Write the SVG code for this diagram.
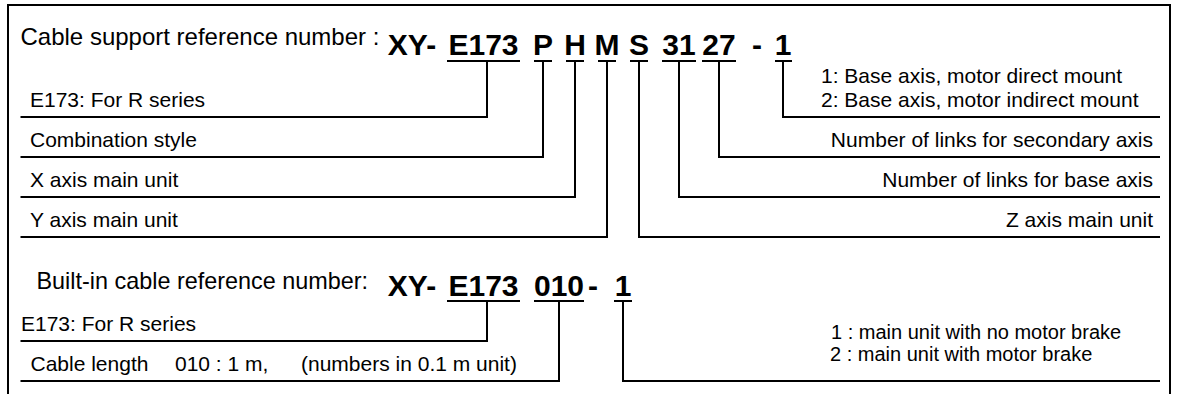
<svg xmlns="http://www.w3.org/2000/svg" width="1178" height="394" viewBox="0 0 1178 394">
<style>
text{font-family:"Liberation Sans",Arial,sans-serif;fill:#000}
.title{font-size:24px}
.code{font-size:30px;font-weight:bold;text-anchor:middle}
.lbl{font-size:21px}
.sm{font-size:20px}
.rt{font-size:21px;text-anchor:end}
.ln{stroke:#000;stroke-width:2;fill:none}
.frame{stroke:#000;stroke-width:2;fill:none}
</style>
<rect width="1178" height="394" fill="#fff"/>
<path class="frame" d="M8,395 V5 H1170 V395"/>

<g id="title1"><text class="title" x="20.5" y="45">Cable support reference number :</text></g>
<g id="code1">
<text class="code" x="412" y="55">XY-</text>
<text class="code" x="483.5" y="55">E173</text>
<text class="code" x="543" y="55">P</text>
<text class="code" x="575" y="55">H</text>
<text class="code" x="607" y="55">M</text>
<text class="code" x="639" y="55">S</text>
<text class="code" x="679" y="55">31</text>
<text class="code" x="719" y="55">27</text>
<text class="code" x="757" y="55">-</text>
<text class="code" x="783" y="55">1</text>
</g>

<g id="lbl-series"><text class="lbl" x="30" y="107">E173: For R series</text></g>
<g id="lbl-comb"><text class="lbl" x="30" y="147">Combination style</text></g>
<g id="lbl-x"><text class="lbl" x="30" y="187">X axis main unit</text></g>
<g id="lbl-y"><text class="lbl" x="30" y="227">Y axis main unit</text></g>
<g id="lbl-mount">
<text class="lbl" x="821" y="83">1: Base axis, motor direct mount</text>
<text class="lbl" x="821" y="107">2: Base axis, motor indirect mount</text>
</g>
<g id="lbl-sec"><text class="rt" x="1153" y="147">Number of links for secondary axis</text></g>
<g id="lbl-base"><text class="rt" x="1153" y="187">Number of links for base axis</text></g>
<g id="lbl-z"><text class="rt" x="1153" y="227">Z axis main unit</text></g>

<g id="title2"><text class="title" x="36.5" y="289" style="font-size:23.4px">Built-in cable reference number:</text></g>
<g id="code2">
<text class="code" x="412" y="296">XY-</text>
<text class="code" x="483.5" y="296">E173</text>
<text class="code" x="559" y="296">010</text>
<text class="code" x="593" y="296">-</text>
<text class="code" x="623" y="296">1</text>
</g>
<g id="lbl2-series"><text class="lbl" x="21" y="331">E173: For R series</text></g>
<g id="lbl2-length"><text class="lbl" y="371"><tspan x="30.5">Cable length</tspan><tspan x="175">010 : 1 m,</tspan><tspan x="301">(numbers in 0.1 m unit)</tspan></text></g>
<g id="lbl2-brake">
<text class="sm" x="831" y="338.5">1 : main unit with no motor brake</text>
<text class="sm" x="830" y="361">2 : main unit with motor brake</text>
</g>

<g id="connectors" class="ln">
<path d="M447,61 H520 M534,61 H552 M566,61 H584 M598,61 H616 M630,61 H648 M662,61 H696 M702,61 H736 M775,61 H792"/>
<path d="M487,61 V117 H20.5"/>
<path d="M543,61 V157 H20.5"/>
<path d="M575,61 V197 H20.5"/>
<path d="M607,61 V237 H20.5"/>
<path d="M639,61 V237 H1160"/>
<path d="M679,61 V197 H1160"/>
<path d="M719,61 V157 H1160"/>
<path d="M783,61 V117 H1160"/>
<path d="M447,301 H520 M534,301 H584 M614,301 H632"/>
<path d="M487,301 V341 H20.5"/>
<path d="M559,301 V381 H20.5"/>
<path d="M623,301 V381 H1160"/>
</g>
</svg>
